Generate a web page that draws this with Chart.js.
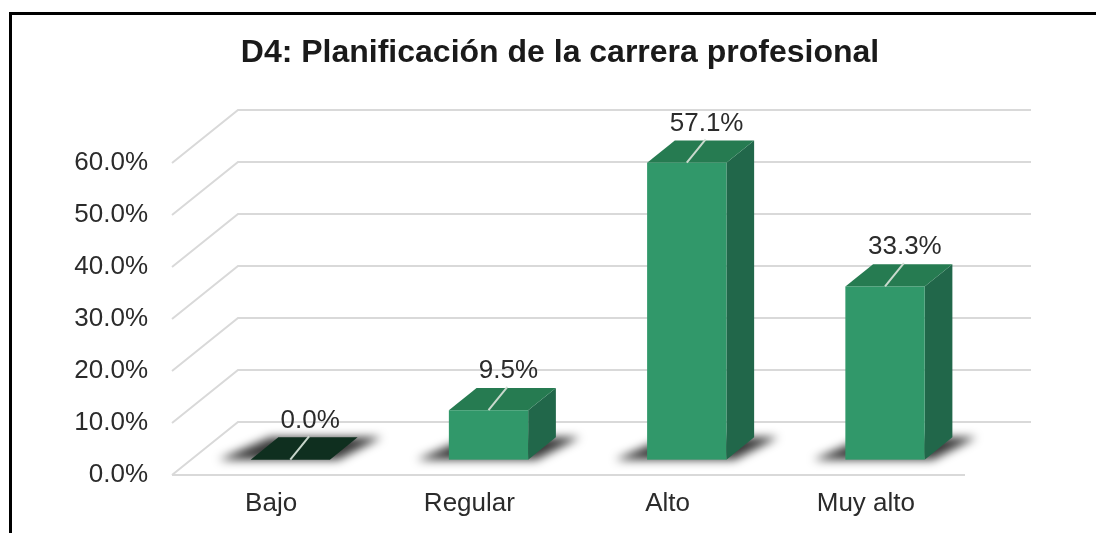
<!DOCTYPE html>
<html>
<head>
<meta charset="utf-8">
<script src="https://cdn.jsdelivr.net/npm/chart.js@4.4.1/dist/chart.umd.min.js"></script>
<style>
html, body { margin: 0; padding: 0; background: #fff; overflow: hidden; }
#wrap { position: relative; width: 1096px; height: 533px; }
</style>
</head>
<body>
<div id="wrap"><canvas id="chart"></canvas></div>
<script>
const categories = ['Bajo', 'Regular', 'Alto', 'Muy alto'];
const percentages = [0.0, 9.5, 57.1, 33.3];
const yTicks = [0, 10, 20, 30, 40, 50, 60];

// fake 3d: floor depth in px and where the boxes sit inside it
const DEPTH_X = 66, DEPTH_Y = 53;
const BAR_FRONT = 0.29, BAR_BACK = 0.71;
const FRONT = '#31986a', TOP = '#267b51', SIDE = '#21674a', FLAT = '#0f2f1f';

function poly(ctx, pts, color) {
    ctx.beginPath();
    ctx.moveTo(pts[0][0], pts[0][1]);
    for (let k = 1; k < pts.length; k++) ctx.lineTo(pts[k][0], pts[k][1]);
    ctx.closePath();
    ctx.fillStyle = color;
    ctx.fill();
}

const box3d = {
    id: 'box3d',
    beforeDraw(chart) {
        const ctx = chart.ctx;
        ctx.save();
        ctx.fillStyle = '#000';
        ctx.fillRect(9, 12, chart.width, 3);
        ctx.fillRect(9, 12, 3, chart.height);
        ctx.restore();
    },
    beforeDatasetsDraw(chart) {
        const { ctx, chartArea: a, scales: { y } } = chart;
        ctx.save();
        ctx.strokeStyle = '#d9d9d9';
        ctx.lineWidth = 2;
        y.ticks.forEach(t => {
            const py = y.getPixelForValue(t.value);
            ctx.beginPath();
            ctx.moveTo(a.left, py);
            ctx.lineTo(a.left + DEPTH_X, py - DEPTH_Y);
            ctx.lineTo(a.right + DEPTH_X, py - DEPTH_Y);
            ctx.stroke();
        });
        ctx.beginPath();
        ctx.moveTo(a.left, a.bottom);
        ctx.lineTo(a.right, a.bottom);
        ctx.stroke();
        ctx.restore();
    },
    afterDatasetsDraw(chart) {
        const ctx = chart.ctx;
        const meta = chart.getDatasetMeta(0);
        const fx = BAR_FRONT * DEPTH_X, fy = BAR_FRONT * DEPTH_Y;
        const dx = (BAR_BACK - BAR_FRONT) * DEPTH_X, dy = (BAR_BACK - BAR_FRONT) * DEPTH_Y;

        // floor shadows
        meta.data.forEach(el => {
            const { x, base, width } = el.getProps(['x', 'base', 'width'], true);
            const l = x - width / 2 + fx, r = x + width / 2 + fx, yb = base - fy;
            ctx.save();
            ctx.filter = 'blur(5px)';
            poly(ctx, [[l - 32, yb], [l + dx - 8, yb - dy], [r + dx + 24, yb - dy], [r + 8, yb]], 'rgba(0,0,0,0.78)');
            ctx.restore();
        });

        meta.data.forEach((el, i) => {
            const { x, y, base, width } = el.getProps(['x', 'y', 'base', 'width'], true);
            const l = x - width / 2 + fx, r = x + width / 2 + fx;
            const top = y - fy, bot = base - fy;
            ctx.save();
            poly(ctx, [[r, top], [r + dx, top - dy], [r + dx, bot - dy], [r, bot]], SIDE);
            poly(ctx, [[l, top], [l + dx, top - dy], [r + dx, top - dy], [r, top]], bot - top < 1 ? FLAT : TOP);
            ctx.fillStyle = FRONT;
            ctx.fillRect(l, top, r - l, bot - top);

            const lx = (l + r) / 2 + dx / 2 + 6;
            const ly = top - dy - 17;
            ctx.strokeStyle = 'rgba(210,222,212,0.95)';
            ctx.lineWidth = 2;
            ctx.beginPath();
            ctx.moveTo((l + r) / 2, top);
            ctx.lineTo(lx - 1, ly + 16);
            ctx.stroke();

            ctx.fillStyle = '#2b2b2b';
            ctx.font = "26px 'Liberation Sans', Arial, sans-serif";
            ctx.textAlign = 'center';
            ctx.textBaseline = 'middle';
            ctx.fillText(percentages[i].toFixed(1) + '%', lx, ly);
            ctx.restore();
        });
    }
};

Chart.defaults.font.family = "'Liberation Sans', Arial, sans-serif";

new Chart(document.getElementById('chart').getContext('2d'), {
    type: 'bar',
    data: {
        labels: categories,
        datasets: [{
            label: 'D4',
            data: percentages,
            backgroundColor: 'rgba(0,0,0,0)',
            barPercentage: 0.4,
            categoryPercentage: 1
        }]
    },
    options: {
        responsive: true,
        maintainAspectRatio: false,
        animation: false,
        layout: { padding: { left: 24, right: 0, top: 0, bottom: 0 } },
        plugins: {
            legend: { display: false },
            tooltip: { enabled: false },
            title: {
                display: true,
                text: 'D4: Planificación de la carrera profesional',
                color: '#1a1a1a',
                font: { size: 32, weight: 'bold' },
                padding: { top: 34, bottom: 90.6 }
            }
        },
        scales: {
            x: {
                grid: { display: false, drawTicks: false },
                border: { display: false },
                ticks: { color: '#2b2b2b', font: { size: 26 }, padding: 13 },
                afterFit(s) { s.height = 58; }
            },
            y: {
                min: 0,
                max: 60,
                grid: { display: false, drawTicks: false },
                border: { display: false },
                ticks: {
                    color: '#2b2b2b',
                    font: { size: 26 },
                    padding: 24,
                    callback: v => v.toFixed(1) + '%'
                },
                afterBuildTicks(s) { s.ticks = yTicks.map(v => ({ value: v })); },
                afterFit(s) { s.width = 148; }
            },
            yRight: {
                position: 'right',
                display: true,
                grid: { display: false, drawTicks: false },
                border: { display: false },
                ticks: { display: false },
                afterFit(s) { s.width = 131; }
            }
        }
    },
    plugins: [box3d]
});
</script>
</body>
</html>
